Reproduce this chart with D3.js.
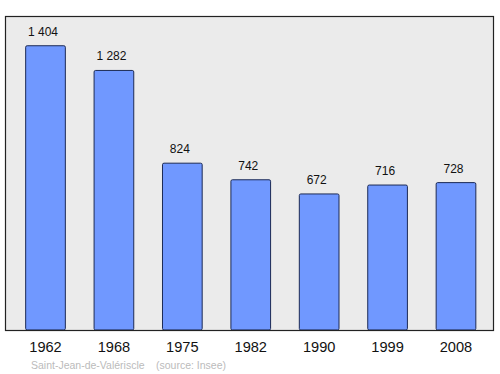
<!DOCTYPE html>
<html lang="fr">
  <head>
    <meta charset="UTF-8" />
    <script src="https://d3js.org/d3.v7.min.js"></script>
    <title>Saint-Jean-de-Valériscle</title>
    <style>
      body { margin: 0; background: #fff; }
      text { font-family: "Liberation Sans", Arial, sans-serif; }
    </style>
  </head>
  <body>
    <svg id="chart" width="500" height="374"></svg>
    <script>
      // data
      var years = ['1962', '1968', '1975', '1982', '1990', '1999', '2008'];
      var population = [1404, 1282, 824, 742, 672, 716, 728];
      var valueLabels = ['1 404', '1 282', '824', '742', '672', '716', '728'];

      var svg = d3.select('#chart');

      // plot frame
      var frame = { left: 5.5, top: 16.5, right: 493.5, bottom: 330.5 };

      var x = d3.scaleBand()
        .domain(years)
        .range([11.3, 490.2])
        .paddingInner(0.42)
        .paddingOuter(0.21);

      var y = d3.scaleLinear()
        .domain([0, 1546])
        .range([330, 17]);

      svg.append('rect')
        .attr('x', frame.left)
        .attr('y', frame.top)
        .attr('width', frame.right - frame.left)
        .attr('height', frame.bottom - frame.top)
        .attr('fill', '#ebebeb');

      // bars
      svg.append('g')
        .selectAll('rect')
        .data(population)
        .enter()
        .append('rect')
        .attr('x', function(d, i) { return x(years[i]); })
        .attr('y', function(d) { return y(d); })
        .attr('width', x.bandwidth())
        .attr('height', function(d) { return y(0) - y(d); })
        .attr('rx', 1.5)
        .attr('fill', '#7098ff')
        .attr('stroke', '#1c2a55')
        .attr('stroke-width', 1);

      // value labels
      svg.append('g')
        .selectAll('text')
        .data(population)
        .enter()
        .append('text')
        .attr('x', function(d, i) { return x(years[i]) + x.bandwidth() / 2 - 2.5; })
        .attr('y', function(d) { return y(d) - 10; })
        .attr('text-anchor', 'middle')
        .attr('font-size', 12)
        .attr('fill', '#111')
        .text(function(d, i) { return valueLabels[i]; });

      // frame border on top
      svg.append('rect')
        .attr('x', frame.left)
        .attr('y', frame.top)
        .attr('width', frame.right - frame.left)
        .attr('height', frame.bottom - frame.top)
        .attr('fill', 'none')
        .attr('stroke', '#222')
        .attr('stroke-width', 1.2);

      // x axis labels
      var xAxis = d3.axisBottom(x).tickSize(0).tickPadding(0);
      var gx = svg.append('g')
        .attr('transform', 'translate(0,' + 342 + ')')
        .call(xAxis);
      gx.select('.domain').remove();
      gx.selectAll('text')
        .attr('font-size', 14.6)
        .attr('font-family', '"Liberation Sans", Arial, sans-serif')
        .attr('fill', '#111');

      // caption
      svg.append('text')
        .attr('x', 31)
        .attr('y', 368.5)
        .attr('font-size', 10.5)
        .attr('fill', '#bbbbbb')
        .text('Saint-Jean-de-Valériscle');
      svg.append('text')
        .attr('x', 156)
        .attr('y', 368.5)
        .attr('font-size', 10.5)
        .attr('fill', '#bbbbbb')
        .text('(source: Insee)');
    </script>
  </body>
</html>
